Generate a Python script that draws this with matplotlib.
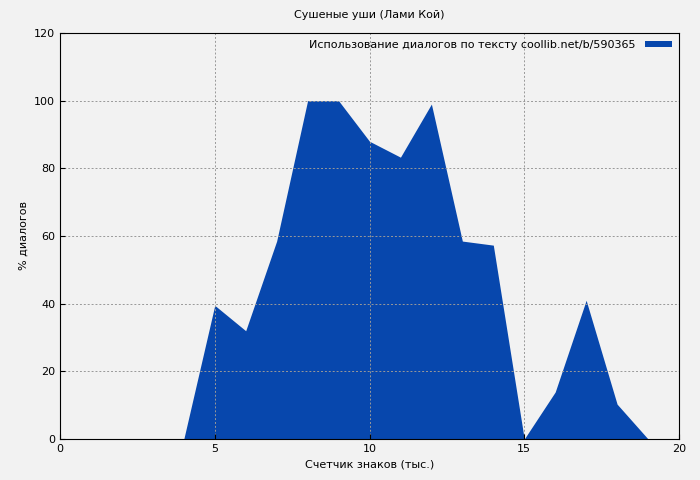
import matplotlib
matplotlib.use("Agg")
from matplotlib import pyplot as plt

# data
xs = [0, 1, 2, 3, 4, 5, 6, 7, 8, 9, 10, 11, 12, 13, 14, 15, 16, 17, 18, 19]
usage = [0, 0, 0, 0, 0, 39.5, 32, 58.5, 100, 100, 88, 83.3, 99, 58.5, 57.3, 0, 13.9, 41, 10.3, 0]
label = "Использование диалогов по тексту coollib.net/b/590365"

fig = plt.figure(figsize=(7, 4.8), dpi=100, facecolor="#f2f2f2")
ax = fig.add_axes([60/700, 1 - 439/480, 619/700, 406/480])
ax.set_facecolor("#f2f2f2")

ax.fill_between(xs, usage, color="#0747ad", linewidth=0, label=label)

ax.set_xlim(0, 20)
ax.set_ylim(0, 120)
ax.set_xticks([0, 5, 10, 15, 20])
ax.set_yticks(range(0, 121, 20))
ax.grid(True, color="#999999", linestyle=(0, (2, 2)), linewidth=0.7)
ax.tick_params(labelsize=8, direction="in")

ax.set_title("Сушеные уши (Лами Кой)", fontsize=8, pad=11)
ax.set_xlabel("Счетчик знаков (тыс.)", fontsize=8)
ax.set_ylabel("% диалогов", fontsize=8)

leg = ax.legend(loc="upper right", fontsize=8, frameon=False, markerfirst=False,
                handlelength=2.5, handleheight=0.4, borderaxespad=0.2)

plt.savefig("out.png", dpi=100, facecolor=fig.get_facecolor())
